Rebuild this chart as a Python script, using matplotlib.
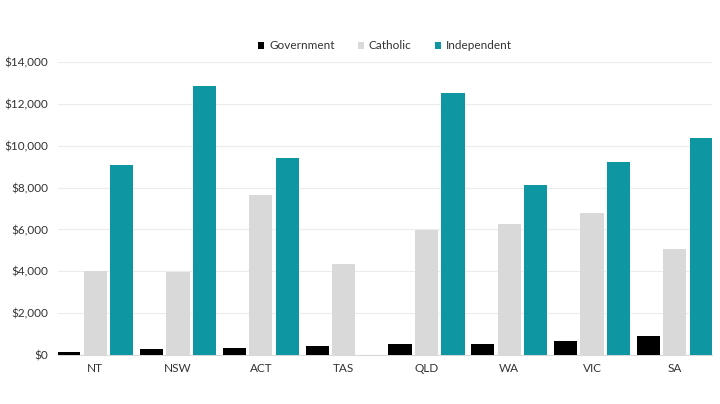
import matplotlib.pyplot as plt
import numpy as np
from matplotlib.ticker import FuncFormatter

states = ["NT", "NSW", "ACT", "TAS", "QLD", "WA", "VIC", "SA"]
government = [150, 300, 350, 450, 530, 530, 690, 930]
catholic = [4000, 3980, 7640, 4350, 5970, 6260, 6780, 5070]
independent = [9080, 12850, 9410, 0, 12500, 8120, 9220, 10380]

plt.rcParams['font.family'] = ['Lato', 'DejaVu Sans']

fig = plt.figure(figsize=(7.2, 4.04), dpi=100)
ax = fig.add_axes([0.0806, 0.1213, 0.9084, 0.7252])

x = np.arange(len(states))
w = 0.28
step = 0.32
ax.bar(x - step, government, w, color="#000000", label="Government", zorder=3)
ax.bar(x, catholic, w, color="#d9d9d9", label="Catholic", zorder=3)
ax.bar(x + step, independent, w, color="#0e96a3", label="Independent", zorder=3)

ax.set_xlim(-0.45, 7.45)
ax.set_ylim(0, 14000)
ax.set_yticks(range(0, 14001, 2000))
ax.yaxis.set_major_formatter(FuncFormatter(lambda v, p: "${:,.0f}".format(v)))
ax.set_xticks(x)
ax.set_xticklabels(states)
ax.grid(axis="y", color="#ececec", linewidth=0.8, zorder=0)
for s in ["top", "right", "left"]:
    ax.spines[s].set_visible(False)
ax.spines["bottom"].set_color("#d9d9d9")
ax.tick_params(length=0, labelsize=8.5, colors="#333333")
ax.tick_params(axis="y", pad=7)
ax.tick_params(axis="x", pad=6)

ax.legend(loc="lower center", bbox_to_anchor=(0.5, 1.0), ncol=3, frameon=False,
          fontsize=8.5, handlelength=0.5, handleheight=0.5, handletextpad=0.4,
          columnspacing=2.0, labelcolor="#333333")

fig.savefig("out.png", dpi=100)
